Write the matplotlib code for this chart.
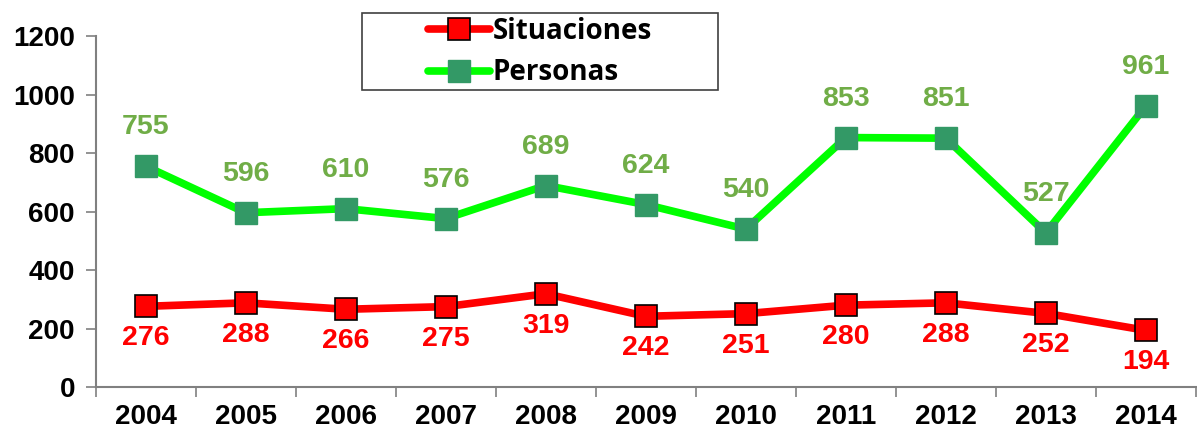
import matplotlib
matplotlib.use("Agg")
import matplotlib.pyplot as plt
from matplotlib.patches import Rectangle

years = ["2004", "2005", "2006", "2007", "2008", "2009", "2010", "2011", "2012", "2013", "2014"]
situaciones = [276, 288, 266, 275, 319, 242, 251, 280, 288, 252, 194]
personas = [755, 596, 610, 576, 689, 624, 540, 853, 851, 527, 961]

RED = "#FF0000"
GREEN_LINE = "#00FF00"
GREEN_MARK = "#339966"
GREEN_TEXT = "#70AD47"
AXIS = "#808080"
W, H = 1197, 432

fig = plt.figure(figsize=(W / 100, H / 100), dpi=100)
ax = fig.add_axes([0.080, 0.104, 0.919, 0.8125])

x = list(range(len(years)))
ax.plot(x, situaciones, color=RED, lw=5.5, marker="s", ms=16,
        mfc=RED, mec="black", mew=1.2, label="Situaciones", zorder=3,
        solid_capstyle="round")
ax.plot(x, personas, color=GREEN_LINE, lw=5.5, marker="s", ms=16,
        mfc=GREEN_MARK, mec=GREEN_MARK, mew=1, label="Personas", zorder=3,
        solid_capstyle="round")

lbl = dict(family="Liberation Sans", fontweight="bold", fontsize=20.5, ha="center", va="center")
for xi, v in zip(x, personas):
    ax.annotate(str(v), (xi, v), xytext=(0, 28), textcoords="offset points",
                color=GREEN_TEXT, **lbl)
for xi, v in zip(x, situaciones):
    ax.annotate(str(v), (xi, v), xytext=(0, -23), textcoords="offset points",
                color=RED, **lbl)

ax.set_xlim(-0.5, len(years) - 0.5)
ax.set_ylim(0, 1200)
ax.set_yticks(range(0, 1201, 200))
ax.set_xticks(x)
ax.set_xticklabels(years)
ax.set_xticks([i - 0.5 for i in range(len(years) + 1)], minor=True)
ax.tick_params(axis="x", which="major", length=0, pad=12)
ax.tick_params(axis="x", which="minor", length=7, color=AXIS, width=1.2, direction="out")
ax.tick_params(axis="y", length=7, color=AXIS, width=1.2, direction="out", pad=8)
for t in ax.get_xticklabels() + ax.get_yticklabels():
    t.set_family("Liberation Sans")
    t.set_fontweight("bold")
    t.set_fontsize(20)

for s in ["top", "right"]:
    ax.spines[s].set_visible(False)
for s in ["left", "bottom"]:
    ax.spines[s].set_color(AXIS)
    ax.spines[s].set_linewidth(1.5)

# legend frame drawn separately so the box can be wider than its content
fig.patches.append(Rectangle((362 / W, 1 - 90 / H), 356 / W, 77 / H,
                             transform=fig.transFigure, facecolor="white",
                             edgecolor="#404040", linewidth=1.2, zorder=5))
leg = fig.legend(loc="center", bbox_to_anchor=(540 / W, 1 - 52 / H),
                 frameon=False,
                 prop=dict(family="Open Sans", weight="bold", size=20),
                 handlelength=2.2, handletextpad=0.1, borderpad=0,
                 labelspacing=0.45, borderaxespad=0)
leg.set_zorder(6)

fig.savefig("out.png", dpi=100)
